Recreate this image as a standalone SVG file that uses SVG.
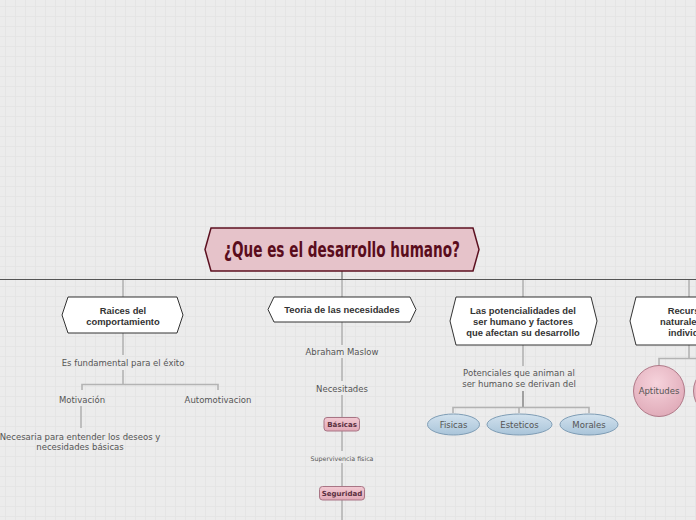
<svg xmlns="http://www.w3.org/2000/svg" width="696" height="520" viewBox="0 0 696 520">
<defs>
<pattern id="grid" width="10" height="10" patternUnits="userSpaceOnUse" x="5" y="6">
<rect width="10" height="10" fill="#ececec"/>
<path d="M0 0.5H10M0.5 0V10" stroke="#e5e5e5" stroke-width="1" fill="none"/>
</pattern>
<radialGradient id="pinkG" cx="0.45" cy="0.35" r="0.7">
<stop offset="0" stop-color="#f6d3dc"/>
<stop offset="1" stop-color="#dfa9b7"/>
</radialGradient>
<linearGradient id="blueG" x1="0" y1="0" x2="0" y2="1">
<stop offset="0" stop-color="#d2e2ee"/>
<stop offset="1" stop-color="#a9c4d9"/>
</linearGradient>
<linearGradient id="boxG" x1="0" y1="0" x2="0" y2="1">
<stop offset="0" stop-color="#f2c9d2"/>
<stop offset="1" stop-color="#e2a9b7"/>
</linearGradient>
</defs>
<style>
.hex{fill:#fff;stroke:#333;stroke-width:1}
.nt{font-family:"Liberation Sans",Arial,sans-serif;font-weight:bold;font-size:9.4px;fill:#333;text-anchor:middle}
.lt{font-family:"DejaVu Sans",Verdana,sans-serif;font-size:8.5px;fill:#555;text-anchor:middle}
.bt{font-family:"DejaVu Sans",Verdana,sans-serif;font-size:7px;font-weight:bold;fill:#5a3040;text-anchor:middle}
.st{font-family:"DejaVu Sans",Verdana,sans-serif;font-size:6.3px;fill:#555;text-anchor:middle}
.c{stroke:#b3b3b3;stroke-width:1.6;fill:none}
.cd{stroke:#555;stroke-width:1;fill:none}
.ell{fill:url(#blueG);stroke:#7f9db5;stroke-width:1}
.circ{fill:url(#pinkG);stroke:#b07a89;stroke-width:1}
.pbox{fill:url(#boxG);stroke:#a87585;stroke-width:1}
</style>
<rect width="696" height="520" fill="url(#grid)"/>

<g id="connectors">
<path class="cd" d="M342 271V279M0 279.5H696"/>
<path class="c" d="M123 280V297M342 280V297M523 280V297M689 280V297"/>
<path class="c" d="M123 333V355M123 370V384"/>
<path class="c" d="M82 390V384.5H218V390"/>
<path class="c" d="M81 406V428"/>
<path class="c" d="M342 322V345M342 358V381M342 395V417M342 431V451M342 463V486M342 500V520"/>
<path class="c" d="M523 345V366"/>
<path class="cd" d="M523 391V407"/>
<path class="c" d="M453 413V407.5H589V413M519 407.5V413"/>
<path class="c" d="M689 345V358M659 366V358.5H696"/>
</g>

<g id="main">
<path d="M211 228H473L479 249.5L473 271H211L205 249.5Z" fill="#e6c3ca" stroke="#5c1020" stroke-width="1.5"/>
<text x="342" y="257" text-anchor="middle" font-family="'Liberation Sans Narrow','DejaVu Sans Condensed','DejaVu Sans',sans-serif" font-stretch="condensed" font-weight="bold" font-size="21" fill="#5a0c1c" textLength="236" lengthAdjust="spacingAndGlyphs">¿Que es el desarrollo humano?</text>
</g>

<g id="raices">
<path class="hex" d="M68 297H177L183 315L177 333H68L62 315Z"/>
<text class="nt" x="123" y="313.5">Raices del</text>
<text class="nt" x="123" y="324.5">comportamiento</text>
</g>
<g id="fundamental"><text class="lt" x="123" y="365.5">Es fundamental para el éxito</text></g>
<g id="motivacion"><text class="lt" x="82" y="403">Motivación</text></g>
<g id="automotivacion"><text class="lt" x="218" y="403">Automotivacion</text></g>
<g id="necesaria">
<text class="lt" x="80" y="440">Necesaria para entender los deseos y</text>
<text class="lt" x="80" y="450">necesidades básicas</text>
</g>

<g id="teoria">
<path class="hex" d="M274 297H410L416 309.5L410 322H274L268 309.5Z"/>
<text class="nt" x="342" y="313">Teoria de las necesidades</text>
</g>
<g id="maslow"><text class="lt" x="342" y="355">Abraham Maslow</text></g>
<g id="necesitades"><text class="lt" x="342" y="392">Necesitades</text></g>
<g id="basicas">
<rect class="pbox" x="324" y="417.5" width="35.5" height="13.5" rx="3"/>
<text class="bt" x="342" y="427">Básicas</text>
</g>
<g id="supervivencia"><text class="st" x="342" y="460.5">Supervivencia fisica</text></g>
<g id="seguridad">
<rect class="pbox" x="319.5" y="486.5" width="45" height="13.5" rx="3"/>
<text class="bt" x="342" y="496">Seguridad</text>
</g>

<g id="potencialidades">
<path class="hex" d="M456 297H591L597 321L591 345H456L450 321Z"/>
<text class="nt" x="523" y="313.5">Las potencialidades del</text>
<text class="nt" x="523" y="324.5">ser humano y factores</text>
<text class="nt" x="523" y="335.5">que afectan su desarrollo</text>
</g>
<g id="potenciales">
<text class="lt" x="519" y="376">Potenciales que animan al</text>
<text class="lt" x="519" y="387">ser humano se derivan del</text>
</g>
<g id="fisicas">
<ellipse class="ell" cx="453.5" cy="424.5" rx="26" ry="10.5"/>
<text class="lt" x="453.5" y="427.5">Fisicas</text>
</g>
<g id="esteticos">
<ellipse class="ell" cx="519.5" cy="424.5" rx="32.5" ry="10.5"/>
<text class="lt" x="519.5" y="427.5">Esteticos</text>
</g>
<g id="morales">
<ellipse class="ell" cx="589" cy="424.5" rx="29" ry="10.5"/>
<text class="lt" x="589" y="427.5">Morales</text>
</g>

<g id="recursos">
<path class="hex" d="M636 297H742L748 321L742 345H636L630 321Z"/>
<text class="nt" x="689" y="313.5">Recursos</text>
<text class="nt" x="689" y="324.5">naturales del</text>
<text class="nt" x="689" y="335.5">individuo</text>
</g>
<g id="aptitudes">
<circle class="circ" cx="659" cy="391" r="25.5"/>
<text class="lt" x="659" y="394">Aptitudes</text>
</g>
<g id="recurso2">
<circle class="circ" cx="719" cy="391" r="25.5"/>
</g>
</svg>
